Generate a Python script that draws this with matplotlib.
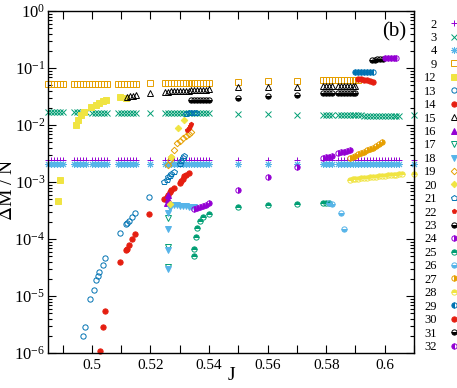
import numpy as np
import matplotlib
matplotlib.use("Agg")
import matplotlib.pyplot as plt
from matplotlib.ticker import FixedLocator, FixedFormatter, LogLocator, NullFormatter, LogFormatterMathtext

plt.rcParams['font.family'] = ['Liberation Serif', 'DejaVu Serif']
plt.rcParams['mathtext.fontset'] = 'stix'

# J grid shared by the flat series (2, 3, 4)
J_full = [0.485, 0.486, 0.487, 0.488, 0.489, 0.490,
          0.494, 0.495, 0.496, 0.497, 0.498, 0.500, 0.501, 0.502, 0.503, 0.504, 0.505,
          0.509, 0.510, 0.511, 0.512, 0.513, 0.514, 0.515,
          0.520,
          0.525, 0.526, 0.527, 0.528, 0.529, 0.530, 0.531, 0.532, 0.533, 0.534, 0.535, 0.536, 0.537, 0.538, 0.539, 0.540,
          0.550, 0.560, 0.570,
          0.579, 0.580, 0.581, 0.582,
          0.584, 0.585, 0.586, 0.587, 0.588, 0.589, 0.590, 0.591, 0.592, 0.593, 0.594, 0.595, 0.596, 0.597, 0.598,
          0.599, 0.600, 0.601, 0.602, 0.603, 0.604, 0.605,
          0.610]

dm_2 = [2.43e-3, 2.43e-3, 2.43e-3, 2.43e-3, 2.43e-3, 2.43e-3,
        2.43e-3, 2.43e-3, 2.43e-3, 2.43e-3, 2.43e-3, 2.43e-3, 2.43e-3, 2.43e-3, 2.43e-3, 2.43e-3, 2.43e-3,
        2.43e-3, 2.43e-3, 2.43e-3, 2.43e-3, 2.43e-3, 2.43e-3, 2.43e-3,
        2.43e-3,
        2.43e-3, 2.43e-3, 2.43e-3, 2.43e-3, 2.43e-3, 2.43e-3, 2.43e-3, 2.43e-3, 2.43e-3, 2.43e-3, 2.43e-3, 2.43e-3,
        2.43e-3, 2.43e-3, 2.43e-3, 2.43e-3,
        2.43e-3, 2.43e-3, 2.43e-3,
        2.43e-3, 2.43e-3, 2.43e-3, 2.43e-3,
        2.43e-3, 2.43e-3, 2.43e-3, 2.43e-3, 2.43e-3, 2.43e-3, 2.43e-3, 2.43e-3, 2.43e-3, 2.43e-3, 2.43e-3, 2.43e-3,
        2.43e-3, 2.43e-3, 2.43e-3, 2.43e-3, 2.43e-3, 2.43e-3, 2.43e-3, 2.43e-3, 2.43e-3, 2.43e-3,
        2.43e-3]

dm_3 = [0.0167, 0.0167, 0.0167, 0.0167, 0.0167, 0.0167,
        0.0166, 0.0166, 0.0166, 0.0166, 0.0166, 0.0165, 0.0165, 0.0165, 0.0165, 0.0165, 0.0165,
        0.0164, 0.0164, 0.0164, 0.0164, 0.0164, 0.0164, 0.0164,
        0.0163,
        0.0162, 0.0162, 0.0162, 0.0162, 0.0162, 0.0161, 0.0161, 0.0161, 0.0161, 0.0161, 0.0160, 0.0160,
        0.0160, 0.0160, 0.0160, 0.0160,
        0.0156, 0.0154, 0.0152,
        0.0150, 0.0150, 0.0150, 0.0150,
        0.0148, 0.0148, 0.0148, 0.0148, 0.0147, 0.0147, 0.0147, 0.0147, 0.0147, 0.0146, 0.0146, 0.0146,
        0.0146, 0.0146, 0.0145, 0.0145, 0.0145, 0.0145, 0.0145, 0.0145, 0.0145, 0.0145,
        0.0150]

dm_4 = [2.05e-3, 2.05e-3, 2.05e-3, 2.05e-3, 2.05e-3, 2.05e-3,
        2.05e-3, 2.05e-3, 2.05e-3, 2.05e-3, 2.05e-3, 2.05e-3, 2.05e-3, 2.05e-3, 2.05e-3, 2.05e-3, 2.05e-3,
        2.05e-3, 2.05e-3, 2.05e-3, 2.05e-3, 2.05e-3, 2.05e-3, 2.05e-3,
        2.05e-3,
        2.05e-3, 2.05e-3, 2.05e-3, 2.05e-3, 2.05e-3, 2.05e-3, 2.05e-3, 2.05e-3, 2.05e-3, 2.05e-3, 2.05e-3, 2.05e-3,
        2.05e-3, 2.05e-3, 2.05e-3, 2.05e-3,
        2.05e-3, 2.05e-3, 2.05e-3,
        2.05e-3, 2.05e-3, 2.05e-3, 2.05e-3,
        2.05e-3, 2.05e-3, 2.05e-3, 2.05e-3, 2.05e-3, 2.05e-3, 2.05e-3, 2.05e-3, 2.05e-3, 2.05e-3, 2.05e-3, 2.05e-3,
        2.05e-3, 2.05e-3, 2.05e-3, 2.05e-3, 2.05e-3, 2.05e-3, 2.05e-3, 2.05e-3, 2.05e-3, 2.05e-3,
        2.05e-3]

J_9 = [0.485, 0.486, 0.487, 0.488, 0.489, 0.490,
       0.494, 0.495, 0.496, 0.497, 0.498, 0.500, 0.501, 0.502, 0.503, 0.504, 0.505,
       0.509, 0.510, 0.511, 0.512, 0.513, 0.514, 0.515,
       0.520,
       0.525, 0.526, 0.527, 0.528, 0.529, 0.530, 0.531, 0.532, 0.533, 0.534, 0.535, 0.536, 0.537, 0.538, 0.539, 0.540,
       0.550, 0.560, 0.570,
       0.579, 0.580, 0.581, 0.582,
       0.584, 0.585, 0.586, 0.587, 0.588, 0.589, 0.590, 0.591]
dm_9 = [0.052, 0.052, 0.052, 0.052, 0.052, 0.052,
        0.052, 0.052, 0.052, 0.052, 0.052, 0.052, 0.052, 0.052, 0.053, 0.053, 0.053,
        0.053, 0.053, 0.053, 0.053, 0.053, 0.053, 0.053,
        0.054,
        0.054, 0.054, 0.054, 0.054, 0.054, 0.054, 0.054, 0.054, 0.055, 0.055, 0.055, 0.055, 0.055, 0.055, 0.055, 0.055,
        0.057, 0.060, 0.060,
        0.061, 0.061, 0.061, 0.061,
        0.061, 0.061, 0.061, 0.061, 0.061, 0.061, 0.061, 0.061]

J_12 = [0.4885, 0.4890, 0.4945, 0.4952, 0.4962, 0.4973, 0.4997, 0.5014, 0.5024, 0.5038, 0.5048, 0.5096, 0.5116]
dm_12 = [4.7e-4, 1.1e-3, 0.0100, 0.0123, 0.0150, 0.0168, 0.0207, 0.0225, 0.0243, 0.0260, 0.0275, 0.0310, 0.0300]

J_13 = [0.4969, 0.4976, 0.4993, 0.5007, 0.5014, 0.5020, 0.5024, 0.5038, 0.5045,
        0.5096, 0.5116, 0.5120, 0.5127, 0.5137, 0.5147, 0.5195]
dm_13 = [2.0e-6, 2.9e-6, 8.9e-6, 1.3e-5, 1.9e-5, 2.2e-5, 2.6e-5, 3.5e-5, 4.6e-5,
         1.3e-4, 1.8e-4, 1.9e-4, 2.1e-4, 2.4e-4, 2.9e-4, 5.5e-4]

J_14 = [0.5027, 0.5038, 0.5045, 0.5096, 0.5116, 0.5120, 0.5127, 0.5137, 0.5147, 0.5195,
        0.5247, 0.5255, 0.5260, 0.5265, 0.5270, 0.5280, 0.5300, 0.5305, 0.5310, 0.5315, 0.5320, 0.5330]
dm_14 = [1.1e-6, 2.9e-6, 5.5e-6, 4.0e-5, 6.4e-5, 6.8e-5, 7.9e-5, 1.0e-4, 1.2e-4, 2.7e-4,
         5.0e-4, 5.5e-4, 6.0e-4, 6.6e-4, 7.2e-4, 7.8e-4, 9.6e-4, 1.05e-3, 1.15e-3, 1.25e-3, 1.35e-3, 1.45e-3]

J_15 = [0.512, 0.513, 0.514, 0.515,
        0.520,
        0.525, 0.526, 0.527, 0.528, 0.529, 0.530, 0.531, 0.532, 0.533, 0.534, 0.535, 0.536, 0.537, 0.538, 0.539, 0.540,
        0.550, 0.560, 0.570,
        0.579, 0.580, 0.581, 0.582,
        0.584, 0.585, 0.586, 0.587, 0.588, 0.589, 0.590]
dm_15 = [0.031, 0.032, 0.032, 0.033,
         0.036,
         0.038, 0.0385, 0.039, 0.039, 0.0395, 0.0395, 0.040, 0.040, 0.040, 0.0405, 0.0405, 0.041, 0.041, 0.041,
         0.0415, 0.042,
         0.046, 0.047, 0.047,
         0.048, 0.048, 0.048, 0.048,
         0.048, 0.048, 0.048, 0.048, 0.048, 0.048, 0.048]

J_16 = [0.5255, 0.5260, 0.5260]
dm_16 = [4.3e-4, 5.0e-4, 5.8e-4]

J_17 = [0.526, 0.526, 0.526]
dm_17 = [2.3e-4, 7.2e-5, 3.2e-5]

J_18 = [0.526, 0.526, 0.526, 0.526, 0.5265, 0.528, 0.529, 0.530, 0.531, 0.532, 0.533, 0.534, 0.535]
dm_18 = [2.9e-4, 1.5e-4, 6.5e-5, 3.0e-5, 3.5e-4, 3.9e-4, 3.9e-4, 3.8e-4, 3.8e-4, 3.8e-4, 3.7e-4, 3.7e-4, 3.6e-4]

J_19 = [0.526, 0.5265, 0.527, 0.528, 0.529, 0.530, 0.531, 0.532, 0.533, 0.534]
dm_19 = [2.0e-3, 2.4e-3, 2.7e-3, 3.6e-3, 4.8e-3, 5.3e-3, 5.8e-3, 6.3e-3, 6.9e-3, 7.5e-3]

J_20 = [0.5265, 0.5270, 0.5295, 0.5315]
dm_20 = [4.1e-4, 2.8e-3, 8.9e-3, 0.0123]

J_21 = [0.5247, 0.5255, 0.5260, 0.5265, 0.5270, 0.5280, 0.5300, 0.5305, 0.5310, 0.5315,
        0.5320, 0.5330, 0.5340, 0.5350, 0.5355]
dm_21 = [1.0e-3, 1.1e-3, 1.2e-3, 1.3e-3, 1.4e-3, 1.5e-3, 2.1e-3, 2.3e-3, 2.6e-3, 2.9e-3,
         0.0158, 0.0160, 0.0160, 0.0162, 0.0162]

J_22 = [0.5325, 0.5330, 0.5335, 0.5340]
dm_22 = [8.3e-3, 9.0e-3, 9.7e-3, 0.0103]

J_23 = [0.534, 0.535, 0.536, 0.537, 0.538, 0.539, 0.540,
        0.550, 0.560, 0.570,
        0.579, 0.580, 0.581, 0.582,
        0.584, 0.585, 0.586, 0.587, 0.588, 0.589, 0.590]
dm_23 = [0.0275, 0.0275, 0.0275, 0.0275, 0.0275, 0.0275, 0.0275,
         0.030, 0.032, 0.0336,
         0.036, 0.036, 0.036, 0.036,
         0.037, 0.037, 0.037, 0.037, 0.037, 0.037, 0.037]

J_24 = [0.535, 0.536, 0.537, 0.538, 0.539, 0.540, 0.550, 0.560, 0.570,
        0.579, 0.580, 0.581, 0.582, 0.584, 0.585, 0.586, 0.587, 0.588]
dm_24 = [3.4e-4, 3.5e-4, 3.6e-4, 3.8e-4, 4.0e-4, 4.3e-4, 7.2e-4, 1.2e-3, 1.8e-3,
         2.6e-3, 2.7e-3, 2.8e-3, 2.9e-3, 3.2e-3, 3.3e-3, 3.4e-3, 3.5e-3, 3.6e-3]

J_25 = [0.535, 0.535, 0.5355, 0.536, 0.537, 0.538, 0.540, 0.550, 0.560, 0.570, 0.579, 0.580, 0.581]
dm_25 = [5.0e-5, 6.6e-5, 1.1e-4, 1.55e-4, 2.1e-4, 2.4e-4, 2.8e-4, 3.6e-4, 4.0e-4, 4.1e-4, 4.2e-4, 4.2e-4, 4.2e-4]

J_26 = [0.581, 0.582, 0.585, 0.586]
dm_26 = [4.3e-4, 4.1e-4, 2.9e-4, 1.5e-4]

J_27 = [0.588, 0.589, 0.590, 0.591, 0.592, 0.593, 0.594, 0.595, 0.596, 0.597, 0.598, 0.599]
dm_27 = [2.6e-3, 2.75e-3, 2.9e-3, 3.05e-3, 3.2e-3, 3.4e-3, 3.6e-3, 3.8e-3, 4.0e-3, 4.3e-3, 4.6e-3, 5.0e-3]

J_28 = [0.588, 0.589, 0.590, 0.591, 0.592, 0.593, 0.594, 0.595, 0.596, 0.597, 0.598, 0.599, 0.600,
        0.601, 0.602, 0.603, 0.604, 0.605, 0.606, 0.610]
dm_28 = [1.10e-3, 1.12e-3, 1.13e-3, 1.15e-3, 1.16e-3, 1.18e-3, 1.19e-3, 1.21e-3, 1.23e-3, 1.24e-3,
         1.26e-3, 1.27e-3, 1.29e-3, 1.31e-3, 1.32e-3, 1.34e-3, 1.35e-3, 1.37e-3, 1.38e-3, 1.40e-3]

J_29 = [0.590, 0.591, 0.592, 0.593, 0.594, 0.595, 0.596]
dm_29 = [0.085, 0.085, 0.085, 0.085, 0.085, 0.085, 0.085]

J_30 = [0.591, 0.592, 0.593, 0.594, 0.595, 0.596]
dm_30 = [0.065, 0.063, 0.062, 0.061, 0.060, 0.058]

J_31 = [0.5955, 0.5965, 0.5975, 0.5985, 0.5995]
dm_31 = [0.140, 0.141, 0.142, 0.143, 0.144]

J_32 = [0.600, 0.601, 0.602, 0.603, 0.604]
dm_32 = [0.148, 0.149, 0.150, 0.151, 0.152]

labels = ['2', '3', '4', '9', '12', '13', '14', '15', '16', '17', '18', '19', '20',
          '21', '22', '23', '24', '25', '26', '27', '28', '29', '30', '31', '32']
xs = [J_full, J_full, J_full, J_9, J_12, J_13, J_14, J_15, J_16, J_17, J_18, J_19, J_20,
      J_21, J_22, J_23, J_24, J_25, J_26, J_27, J_28, J_29, J_30, J_31, J_32]
ys = [dm_2, dm_3, dm_4, dm_9, dm_12, dm_13, dm_14, dm_15, dm_16, dm_17, dm_18, dm_19, dm_20,
      dm_21, dm_22, dm_23, dm_24, dm_25, dm_26, dm_27, dm_28, dm_29, dm_30, dm_31, dm_32]

x_ticks = [0.49, 0.50, 0.51, 0.52, 0.53, 0.54, 0.55, 0.56, 0.57, 0.58, 0.59, 0.60, 0.61]
x_ticklabels = ['', '0.5', '', '0.52', '', '0.54', '', '0.56', '', '0.58', '', '0.6', '']
y_ticks = [1e-6, 1e-5, 1e-4, 1e-3, 1e-2, 1e-1, 1e0]

palette = ['#9400d3', '#009e73', '#56b4e9', '#e69f00', '#f0e442', '#0072b2', '#e51e10', 'black']
# marker, fillstyle ('none' = open), size
styles = [('+', 'full', 5.0), ('x', 'full', 4.0), ((8, 2, 0), 'full', 5.0), ('s', 'none', 4.0),
          ('s', 'full', 4.0), ('o', 'none', 3.8), ('o', 'full', 3.8), ('^', 'none', 3.8),
          ('^', 'full', 3.8), ('v', 'none', 3.8), ('v', 'full', 3.8), ('D', 'none', 3.3),
          ('D', 'full', 3.3), ('p', 'none', 3.8), ('p', 'full', 3.2), ('o', 'bottom', 3.8),
          ('o', 'right', 3.8), ('o', 'top', 3.8), ('o', 'bottom', 3.8), ('o', 'right', 3.8),
          ('o', 'top', 3.8), ('o', 'left', 3.8), ('o', 'full', 3.8), ('o', 'bottom', 3.8),
          ('o', 'left', 3.8)]

fig = plt.figure(figsize=(4.57, 3.88), dpi=100)
ax = fig.add_axes([0.105, 0.0902, 0.801, 0.8814])

for i in range(len(labels)):
    c = palette[i % 8]
    m, fs, ms = styles[i]
    if fs == 'none':
        ax.plot(xs[i], ys[i], ls='none', marker=m, ms=ms, mew=0.7, mec=c, mfc='none',
                label=labels[i], clip_on=False)
    else:
        ax.plot(xs[i], ys[i], ls='none', marker=m, ms=ms, mew=0.7, mec=c, mfc=c,
                fillstyle=fs, markerfacecoloralt='none', label=labels[i], clip_on=False)

ax.set_yscale('log')
ax.set_xlim(0.485, 0.61)
ax.set_ylim(1e-6, 1)

ax.xaxis.set_major_locator(FixedLocator(x_ticks))
ax.xaxis.set_major_formatter(FixedFormatter(x_ticklabels))
ax.yaxis.set_major_locator(FixedLocator(y_ticks))
ax.yaxis.set_major_formatter(LogFormatterMathtext())
ax.yaxis.set_minor_locator(LogLocator(base=10, subs=np.arange(2, 10), numticks=10))
ax.yaxis.set_minor_formatter(NullFormatter())
ax.tick_params(which='both', direction='in', top=True, right=True, width=0.8)
ax.tick_params(which='major', length=6)
ax.tick_params(which='minor', length=3)
ax.tick_params(axis='x', labelsize=11, pad=4)
ax.tick_params(axis='y', labelsize=12, pad=2)
for s in ax.spines.values():
    s.set_linewidth(1.0)

ax.set_xlabel('J', fontsize=14, labelpad=-3)
ax.set_ylabel(r'$\Delta$M / N', fontsize=14)
ax.yaxis.set_label_coords(-0.088, 0.477)
ax.text(0.945, 0.939, '(b)', transform=ax.transAxes, fontsize=15, ha='center', va='center')

ax.legend(loc='upper left', bbox_to_anchor=(424 / 457, 1 - 18.5 / 388), bbox_transform=fig.transFigure,
          frameon=False, markerfirst=False, fontsize=9, labelspacing=0.115, handlelength=1.0,
          handletextpad=0.9, borderpad=0, borderaxespad=0, numpoints=1)

fig.savefig('out.png', dpi=100)
